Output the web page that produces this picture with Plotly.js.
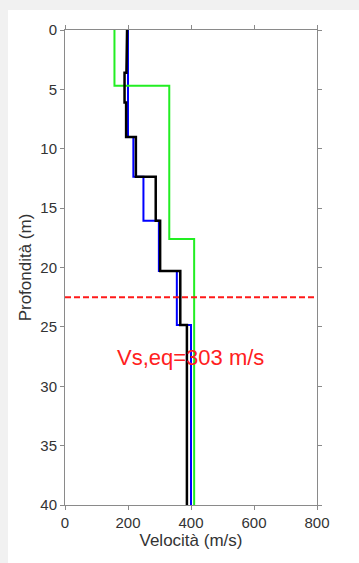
<!DOCTYPE html>
<html>
<head>
<meta charset="utf-8">
<script src="https://cdn.plot.ly/plotly-3.0.1.min.js"></script>
<style>
html,body{margin:0;padding:0;width:359px;height:563px;background:#f1f1f1;overflow:hidden;}
#chart{position:absolute;left:8px;top:10px;width:351px;height:553px;background:#fff;}
</style>
</head>
<body>
<div id="chart"></div>
<script>
// Layer profiles: velocity (m/s) and depth of layer bottom (m)
const greenVs = [157, 331, 410];
const greenBottom = [4.7, 17.6, 40];

const blueVs = [200, 217, 249, 298, 355, 400];
const blueBottom = [9.0, 12.35, 16.06, 20.3, 24.85, 40];

const blackVs = [197, 195, 189, 194, 225, 288, 302, 366, 387];
const blackBottom = [1.8, 3.6, 6.1, 9.0, 12.35, 16.06, 20.3, 24.85, 40];

const vsEqDepth = 22.5;
const vsEqLabel = "Vs,eq=303 m/s";
const xTicks = [0, 200, 400, 600, 800];
const yTicks = [0, 5, 10, 15, 20, 25, 30, 35, 40];

function steps(vs, bottoms) {
  const x = [], y = [];
  let top = 0;
  for (let i = 0; i < vs.length; i++) {
    x.push(vs[i], vs[i]);
    y.push(top, bottoms[i]);
    top = bottoms[i];
  }
  return {x, y};
}

const g = steps(greenVs, greenBottom);
const b = steps(blueVs, blueBottom);
const k = steps(blackVs, blackBottom);

const traces = [
  {x: b.x, y: b.y, mode: 'lines', line: {color: '#0000ff', width: 2}, hoverinfo: 'skip'},
  {x: g.x, y: g.y, mode: 'lines', line: {color: '#22ee22', width: 2}, hoverinfo: 'skip'},
  {x: k.x, y: k.y, mode: 'lines', line: {color: '#000000', width: 2.5}, hoverinfo: 'skip'},
  {x: [xTicks[0], xTicks[xTicks.length-1]], y: [vsEqDepth, vsEqDepth], mode: 'lines',
   line: {color: '#ff1a1a', width: 2, dash: '6px,3px'}, hoverinfo: 'skip'}
];

const axisCommon = {
  showline: true, linecolor: '#8a8a8a', linewidth: 1, mirror: 'ticks',
  ticks: 'outside', ticklen: 4, tickcolor: '#8a8a8a', showgrid: false, zeroline: false,
  tickfont: {family: 'Liberation Sans, Arial, sans-serif', size: 15, color: '#333'}
};

const layout = {
  width: 351, height: 553,
  margin: {l: 57, r: 42, t: 20, b: 58},
  paper_bgcolor: '#ffffff', plot_bgcolor: '#ffffff',
  showlegend: false,
  font: {family: 'Liberation Sans, Arial, sans-serif', color: '#333'},
  xaxis: Object.assign({}, axisCommon, {
    range: [0, 800], tickvals: xTicks, ticktext: xTicks.map(String),
    title: {text: 'Velocità (m/s)', font: {size: 17, color: '#333'}, standoff: 3}
  }),
  yaxis: Object.assign({}, axisCommon, {
    range: [40, 0], tickvals: yTicks, ticktext: yTicks.map(String),
    title: {text: 'Profondità (m)', font: {size: 17, color: '#333'}, standoff: 4}
  }),
  annotations: [{
    x: 397, y: 27.6, xref: 'x', yref: 'y', text: vsEqLabel, showarrow: false,
    font: {family: 'Liberation Sans, Arial, sans-serif', size: 22, color: '#ff2020'},
    xanchor: 'center', yanchor: 'middle'
  }]
};

Plotly.newPlot('chart', traces, layout, {displayModeBar: false, staticPlot: true});
</script>
</body>
</html>
